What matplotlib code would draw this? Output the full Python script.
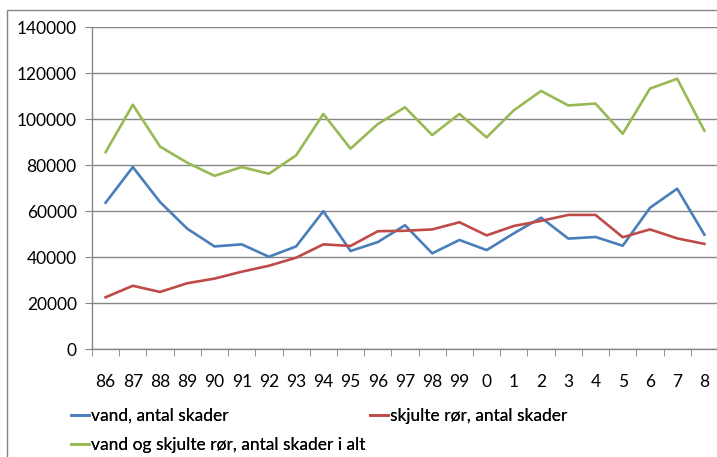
import matplotlib
matplotlib.use("Agg")
import matplotlib.pyplot as plt
from matplotlib.patches import Rectangle

categories = ["86", "87", "88", "89", "90", "91", "92", "93", "94", "95", "96", "97",
              "98", "99", "0", "1", "2", "3", "4", "5", "6", "7", "8"]
vand = [63600, 79100, 63900, 52300, 44600, 45500, 40100, 44600, 59900, 42600, 46500, 53800,
        41600, 47400, 43000, 50300, 57100, 48000, 48700, 44900, 61400, 69700, 49700]
skjulte = [22500, 27500, 24800, 28600, 30600, 33600, 36200, 39700, 45500, 44800, 51200, 51400,
           52000, 55100, 49400, 53500, 55700, 58300, 58300, 48600, 52000, 48100, 45700]
i_alt = [85600, 106200, 88000, 81000, 75300, 79100, 76200, 84200, 102200, 87100, 97800, 105100,
         93000, 102200, 92000, 103800, 112200, 105900, 106700, 93600, 113200, 117500, 94900]
labels = ["vand, antal skader", "skjulte rør, antal skader",
          "vand og skjulte rør, antal skader i alt"]
yticks = [0, 20000, 40000, 60000, 80000, 100000, 120000, 140000]

plt.rcParams['font.family'] = ['Lato', 'DejaVu Sans']

W, H = 717, 457
fig = plt.figure(figsize=(W / 100, H / 100), dpi=100)
ax = fig.add_axes([92 / W, 1 - 349 / H, (718 - 92) / W, (349 - 27) / H])

gray = "#868686"
colors = ["#4A7EBB", "#BE4B48", "#98B954"]
x = list(range(len(categories)))
h1, = ax.plot(x, vand, color=colors[0], lw=1.9, solid_joinstyle="round")
h2, = ax.plot(x, skjulte, color=colors[1], lw=1.9, solid_joinstyle="round")
h3, = ax.plot(x, i_alt, color=colors[2], lw=1.9, solid_joinstyle="round")

ax.set_xlim(-0.5, len(categories) - 0.5)
ax.set_ylim(0, 140000)
ax.set_yticks(yticks)
ax.set_yticklabels([str(v) for v in yticks], fontsize=12.5)
ax.yaxis.grid(True, color=gray, lw=1)
ax.set_axisbelow(True)

ax.set_xticks(x)
ax.set_xticklabels(categories, fontsize=12.5)
ax.set_xticks([i - 0.5 for i in range(len(categories) + 1)], minor=True)
ax.tick_params(axis="x", which="major", length=0, pad=18)
ax.tick_params(axis="x", which="minor", length=5, color=gray, direction="out")
ax.tick_params(axis="y", length=5, color=gray, pad=6)

for s in ["top", "right"]:
    ax.spines[s].set_visible(False)
for s in ["left", "bottom"]:
    ax.spines[s].set_color(gray)
    ax.spines[s].set_linewidth(1)

fig.patches.append(Rectangle((7 / W, -0.1), 1.2, 1 - 10 / H + 0.1, transform=fig.transFigure,
                             fill=False, edgecolor=gray, lw=1))

# legend entries placed as in the reference (two rows, second entry to the right)
entries = [(h1, labels[0], 71, 416), (h2, labels[1], 370, 416), (h3, labels[2], 71, 445)]
for handle, lab, px, py in entries:
    lg = fig.legend([handle], [lab], loc="center left",
                    bbox_to_anchor=(px / W, 1 - py / H), frameon=False,
                    fontsize=12.5, handlelength=1.05, handletextpad=0.1,
                    borderpad=0, borderaxespad=0)
    fig.add_artist(lg)

fig.savefig("out.png", dpi=100)
